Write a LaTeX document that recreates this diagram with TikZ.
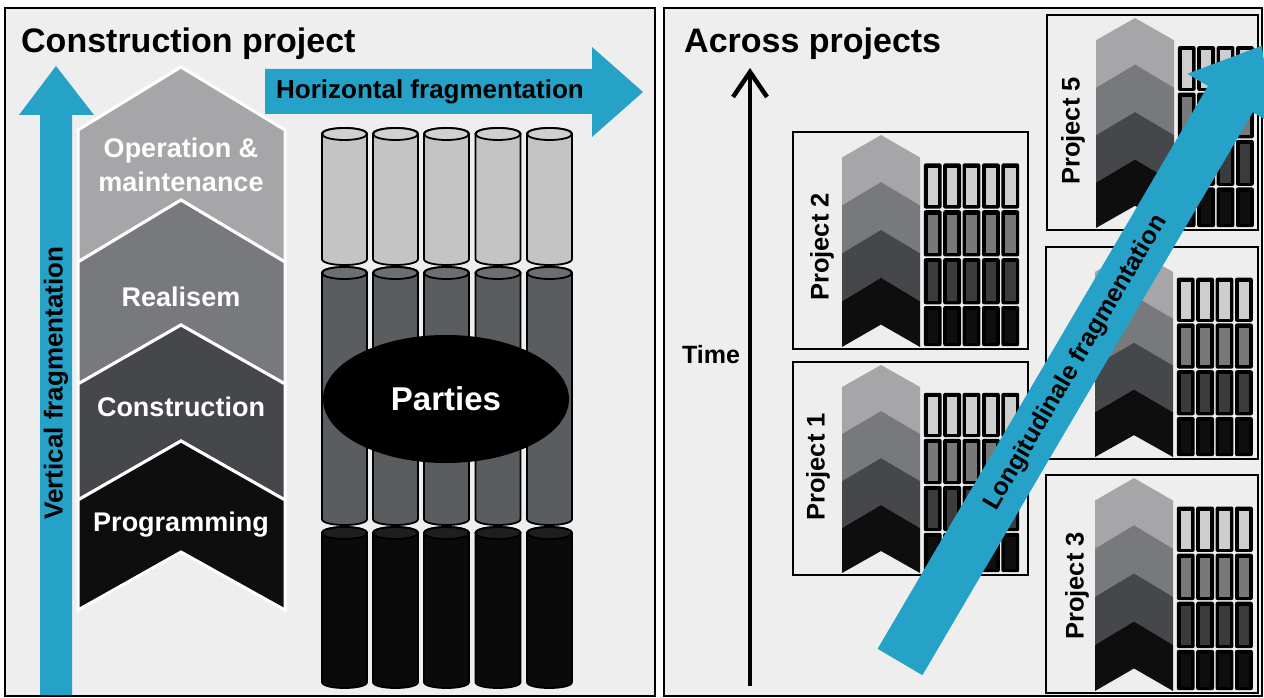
\documentclass[tikz,border=0pt]{standalone}
\usepackage{fontspec}
\setmainfont{Liberation Sans}
\usetikzlibrary{shapes.geometric}
\definecolor{bluearrow}{RGB}{38,162,201}
\definecolor{panelbg}{RGB}{238,238,238}
\definecolor{chA}{RGB}{166,166,168}
\definecolor{chB}{RGB}{120,121,124}
\definecolor{chC}{RGB}{70,71,74}
\definecolor{chD}{RGB}{14,14,15}
\definecolor{cylA}{RGB}{196,196,196}
\definecolor{cylAt}{RGB}{208,208,208}
\definecolor{cylB}{RGB}{90,93,96}
\definecolor{cylBt}{RGB}{108,111,114}
\definecolor{cylC}{RGB}{10,10,10}
\definecolor{cylCt}{RGB}{30,30,30}
\definecolor{cellA}{RGB}{206,206,206}
\definecolor{cellB}{RGB}{118,120,122}
\definecolor{cellC}{RGB}{58,59,61}
\newcommand{\fsz}[1]{\fontsize{#1}{#1}\selectfont\bfseries}
\tikzset{
  pbox/.style={draw=black, line width=2pt},
  panel/.style={fill=panelbg, draw=black, line width=2pt},
  cylseg/.style={draw=black, line width=1.8pt},
  chevtext/.style={text=white, font=\fontsize{27}{34}\selectfont\bfseries, align=center, inner sep=0pt},
  projlbl/.style={rotate=90, font=\fsz{25.5}, inner sep=0pt},
  bigtitle/.style={anchor=base west, font=\fsz{34}, inner sep=0pt},
}
% #1 L, #2 T, #3 W, #4 H, #5 ncols
\newcommand{\projbox}[5]{%
  \begin{scope}[shift={(#1,#2)}, yscale=#4/213]
    \foreach \pa/\sa/\pb/\sb/\col in {3/25/49/72/chA, 49/72/96/119/chB, 96/119/143/166/chC, 143/166/189/211/chD}
      \fill[\col] (49,\sa) -- (88,\pa) -- (127,\sa) -- (127,\sb) -- (88,\pb) -- (49,\sb) -- cycle;
    \foreach \ra/\rb/\col in {30/76/cellA, 76/123/cellB, 123/170/cellC, 170/211/chD}
      \foreach \c in {1,...,#5}{
        \fill[black, rounded corners=2pt] ({130+(\c-1)*19.4+0.8},{\ra+0.8}) rectangle ({130+\c*19.4-0.8},{\rb-0.8});
        \fill[\col] ({130+(\c-1)*19.4+4.5},{\ra+5}) rectangle ({130+\c*19.4-4.5},{\rb-4});
      }
    \draw[pbox] (0,0) rectangle (#3,213);
  \end{scope}}
\begin{document}
\begin{tikzpicture}[x=1pt,y=-1pt]
\useasboundingbox (0,0) rectangle (1264,698);
\fill[white] (0,0) rectangle (1264,698);
\draw[panel] (5,8) rectangle (655,696);
\draw[panel] (664,8) rectangle (1262,696);

% ---------- left panel ----------
\node (title) [bigtitle] at (21,53) {Construction project};

% vertical arrow
\fill[bluearrow] (40,695) -- (40,115) -- (19,115) -- (56,66) -- (94,115) -- (72,115) -- (72,695) -- cycle;
\node (vfrag) [rotate=90, font=\fsz{26}, inner sep=0pt] at (56,383) {Vertical fragmentation};

% horizontal arrow
\fill[bluearrow] (265,69) -- (592,69) -- (592,47) -- (643,92) -- (592,137) -- (592,114) -- (265,114) -- cycle;
\node (hfrag) [font=\fsz{26}, inner sep=0pt] at (430,92) {Horizontal fragmentation};

% chevrons
\foreach \pa/\sa/\pb/\sb/\col in {67/130/200/262/chA, 200/262/325/384/chB, 325/384/441/500/chC, 441/500/552/610/chD}
  \filldraw[fill=\col, draw=white, line width=3pt, line join=miter] (78,\sa) -- (181,\pa) -- (285,\sa) -- (285,\sb) -- (181,\pb) -- (78,\sb) -- cycle;
\node (opm) [chevtext] at (181,165) {Operation \&\\maintenance};
\node (real) [chevtext] at (181,297) {Realisem};
\node (constr) [chevtext] at (181,407) {Construction};
\node (prog) [chevtext] at (181,525) {Programming};

% cylinders
\foreach \cx in {344.5,395.5,446.5,498,549.5}{
  \foreach \tp/\bt/\col/\tcol in {134/259/cylA/cylAt, 273/519/cylB/cylBt, 533/682/cylC/cylCt}{
    \filldraw[cylseg, fill=\col] (\cx-22.5,\tp) -- (\cx-22.5,\bt) .. controls (\cx-22.5,\bt+8) and (\cx+22.5,\bt+8) .. (\cx+22.5,\bt) -- (\cx+22.5,\tp) .. controls (\cx+22.5,\tp-8) and (\cx-22.5,\tp-8) .. (\cx-22.5,\tp) -- cycle;
    \filldraw[cylseg, fill=\tcol] (\cx,\tp) ellipse [x radius=22.5, y radius=6];
  }
}
\node (parties) [ellipse, fill=black, minimum width=246pt, minimum height=128pt, inner sep=0pt, text=white, font=\fsz{33}] at (446,399) {Parties};

% ---------- right panel ----------
\node (across) [bigtitle] at (684,53) {Across projects};
\coordinate (tbot) at (750,686);
\coordinate (ttop) at (750,72);
\coordinate (twl) at (733,97);
\coordinate (twr) at (767,97);
\draw[line width=4pt] (tbot) -- (ttop);
\draw[line width=4.5pt, line join=miter] (twl) -- (ttop) -- (twr);
\node (time) [font=\fsz{25}, inner sep=0pt] at (711,355) {Time};

\projbox{1047}{15}{211}{215}{4}
\projbox{1046}{247}{212}{212}{4}
\projbox{1046}{475}{212}{218}{4}
\projbox{793}{132}{235}{217}{5}
\projbox{793}{362}{235}{213}{5}
\node (p5) [projlbl] at (1073,131) {Project 5};
\node (p3) [projlbl] at (1077,586) {Project 3};
\node (p2) [projlbl] at (822,247) {Project 2};
\node (p1) [projlbl] at (818,467) {Project 1};

% longitudinal arrow
\fill[bluearrow] (877.6,648.8) -- (1208.0,85.9) -- (1187.3,73.8) -- (1261.8,45.7) -- (1273.5,124.4) -- (1252.8,112.3) -- (922.4,675.2) -- cycle;
\node (lfrag) [rotate=59.6, font=\fsz{25}, inner sep=0pt] at (1076,363) {Longitudinale fragmentation};
\end{tikzpicture}
\end{document}
